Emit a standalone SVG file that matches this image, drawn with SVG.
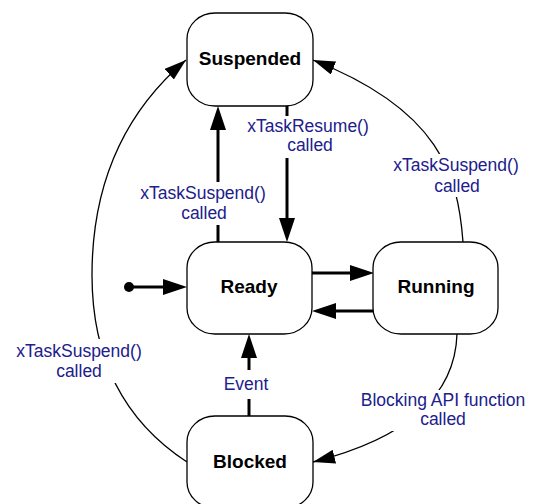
<svg xmlns="http://www.w3.org/2000/svg" width="533" height="504" viewBox="0 0 533 504">
<style>
.node rect{fill:#fff;stroke:#000;stroke-width:1.3}
.node text{font-family:"Liberation Sans",Arial,sans-serif;font-weight:bold;font-size:19px;fill:#000;text-anchor:middle}
.thick{stroke:#000;stroke-width:3;fill:none}
.thin{stroke:#000;stroke-width:1.3;fill:none}
.lbl rect{fill:#fff;stroke:none}
.lbl text{font-family:"Liberation Sans",Arial,sans-serif;font-size:17.5px;fill:#20208c;text-anchor:middle}
</style>
<defs>
<marker id="big" markerUnits="userSpaceOnUse" markerWidth="24" markerHeight="16" viewBox="0 0 24 16" refX="0" refY="8" orient="auto">
<path d="M0,0 L24,8 L0,16 z" fill="#000"/>
</marker>
<marker id="small" markerUnits="userSpaceOnUse" markerWidth="22" markerHeight="14" viewBox="0 0 22 14" refX="22" refY="7" orient="auto">
<path d="M0,0 L22,7 L0,14 z" fill="#000"/>
</marker>
</defs>
<g id="connectors">
<circle cx="129" cy="287" r="5" fill="#000"/>
<line class="thick" x1="133" y1="287" x2="163" y2="287" marker-end="url(#big)"/>
<line class="thick" x1="218" y1="242" x2="218" y2="130" marker-end="url(#big)"/>
<line class="thick" x1="287" y1="106" x2="287" y2="218" marker-end="url(#big)"/>
<line class="thick" x1="312" y1="273" x2="350" y2="273" marker-end="url(#big)"/>
<line class="thick" x1="373" y1="311" x2="336" y2="311" marker-end="url(#big)"/>
<line class="thick" x1="249" y1="416" x2="249" y2="358" marker-end="url(#big)"/>
<path class="thin" d="M187,462 Q92,400 92,275 Q92,140 186,60" marker-end="url(#small)"/>
<path class="thin" d="M463,242 C458,175 440,110 313,60" marker-end="url(#small)"/>
<path class="thin" d="M457,334 C455,400 400,440 313,462" marker-end="url(#small)"/>
</g>
<g id="labels">
<g class="lbl"><rect x="13" y="339" width="134" height="44"/><text x="79" y="357">xTaskSuspend()</text><text x="79" y="377">called</text></g>
<g class="lbl"><rect x="136" y="182" width="134" height="43"/><text x="203" y="199">xTaskSuspend()</text><text x="204" y="219">called</text></g>
<g class="lbl"><rect x="243" y="116" width="130" height="42"/><text x="308" y="132">xTaskResume()</text><text x="310" y="151">called</text></g>
<g class="lbl"><rect x="389" y="154" width="134" height="43"/><text x="456" y="171">xTaskSuspend()</text><text x="457" y="192">called</text></g>
<g class="lbl"><rect x="358" y="390" width="172" height="41"/><text x="443" y="406">Blocking API function</text><text x="443" y="425">called</text></g>
<g class="lbl"><rect x="221" y="370" width="50" height="29"/><text x="246" y="390">Event</text></g>
</g>
<g id="suspended" class="node"><rect x="187" y="13" width="126" height="93" rx="28" ry="26"/><text x="250" y="65">Suspended</text></g>
<g id="ready" class="node"><rect x="187" y="242" width="125" height="92" rx="28" ry="26"/><text x="249" y="293">Ready</text></g>
<g id="running" class="node"><rect x="373" y="242" width="125" height="92" rx="28" ry="26"/><text x="436" y="293">Running</text></g>
<g id="blocked" class="node"><rect x="187" y="416" width="126" height="92" rx="28" ry="26"/><text x="250" y="468">Blocked</text></g>
</svg>
